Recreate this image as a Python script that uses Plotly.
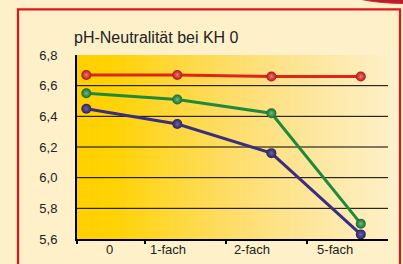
import plotly.graph_objects as go

# ---- data ----
categories = ["0", "1-fach", "2-fach", "5-fach"]
label_pos = [0.42, 1.17, 2.25, 3.32]        # category label positions on x axis
tick_pos = [0.0, 0.875, 1.92, 2.96]         # tick mark positions
x_points = [0.12, 1.29, 2.5, 3.65]          # x of measured points
red_vals = [6.67, 6.67, 6.66, 6.66]
green_vals = [6.55, 6.51, 6.42, 5.70]
purple_vals = [6.45, 6.35, 6.16, 5.63]
y_ticks = [5.6, 5.8, 6.0, 6.2, 6.4, 6.6, 6.8]
grid_vals = [5.8, 6.0, 6.2, 6.4, 6.6]

W, H = 403, 264
ML, MR, MT, MB = 77, 15, 55, 25
PW, PH = W - ML - MR, H - MT - MB


def px(x):  # pixel x -> paper
    return (x - ML) / PW


def py(y):  # pixel y -> paper
    return (H - MB - y) / PH


fig = go.Figure()

series = [
    (red_vals, "#E2231A", "#F47A6E", "#B0121A"),
    (green_vals, "#1F8A3B", "#6DBB7C", "#17692C"),
    (purple_vals, "#3A2E80", "#6B62A8", "#2A2060"),
]
for vals, lc, light, dark in series:
    fig.add_trace(go.Scatter(
        x=x_points, y=vals, mode="lines+markers",
        line=dict(color=lc, width=3),
        marker=dict(size=10, color=dark,
                    gradient=dict(type="radial", color=light),
                    line=dict(width=0)),
        xaxis="x", yaxis="y", showlegend=False, hoverinfo="skip",
    ))

# dummy trace for tick-mark axis
fig.add_trace(go.Scatter(x=[0], y=[6.0], xaxis="x2", yaxis="y",
                         mode="markers", marker=dict(opacity=0),
                         showlegend=False, hoverinfo="skip"))

shapes = []
stops = [(0.0, (255, 208, 0)), (0.1, (255, 210, 0)), (0.5, (254, 221, 106)),
         (0.75, (253, 230, 156)), (1.0, (254, 240, 198))]


def col(t):
    for (a, ca), (b, cb) in zip(stops[:-1], stops[1:]):
        if a <= t <= b:
            f = (t - a) / (b - a) if b > a else 0
            c = [round(ca[i] + (cb[i] - ca[i]) * f) for i in range(3)]
            return "rgb(%d,%d,%d)" % tuple(c)
    return "rgb(254,240,198)"


N = 120
for i in range(N):
    shapes.append(dict(type="rect", xref="paper", yref="paper",
                       x0=i / N, x1=(i + 1) / N + 0.002, y0=0, y1=1,
                       fillcolor=col((i + 0.5) / N), line=dict(width=0),
                       layer="below"))
for g in grid_vals:
    shapes.append(dict(type="line", xref="paper", yref="y", x0=0, x1=1,
                       y0=g, y1=g, line=dict(color="black", width=1),
                       layer="below"))
# red frame
shapes.append(dict(type="rect", xref="paper", yref="paper",
                   x0=px(18), x1=px(400), y0=py(9.3), y1=py(290),
                   line=dict(color="#E3141E", width=2.2), fillcolor="rgba(0,0,0,0)",
                   layer="above"))
# top-right ellipse sliver
shapes.append(dict(type="circle", xref="paper", yref="paper",
                   x0=px(342), x1=px(470), y0=py(3.5), y1=py(-25),
                   line=dict(color="#D8222A", width=1), fillcolor="#B81E28",
                   layer="above"))

fig.update_layout(
    width=W, height=H,
    margin=dict(l=ML, r=MR, t=MT, b=MB, pad=0, autoexpand=False),
    paper_bgcolor="#FEF0C9", plot_bgcolor="#FEF0C9",
    font=dict(family="Liberation Sans, Arial, sans-serif", size=13, color="#222"),
    separators=",.",
    shapes=shapes,
    xaxis=dict(range=[0, 4], tickvals=label_pos, ticktext=categories,
               showgrid=False, zeroline=False, showline=True,
               linecolor="black", linewidth=2, automargin=False,
               ticks="", ticklabelstandoff=-3, tickfont=dict(size=13)),
    xaxis2=dict(range=[0, 4], overlaying="x", anchor="y", side="bottom",
                tickvals=tick_pos, showticklabels=False, showgrid=False,
                zeroline=False, ticks="outside", ticklen=4, tickwidth=2,
                tickcolor="black", showline=False, automargin=False),
    yaxis=dict(range=[5.6, 6.8], tickvals=y_ticks, tickformat=".1f",
               showgrid=False, zeroline=False, showline=True,
               linecolor="black", linewidth=2, automargin=False,
               ticks="outside", ticklen=15, tickcolor="rgba(0,0,0,0)",
               tickfont=dict(size=13)),
    annotations=[dict(text="pH-Neutralität bei KH 0", xref="paper", yref="paper",
                      x=px(72), y=py(38), xanchor="left", yanchor="middle",
                      showarrow=False, font=dict(size=16, color="#222"))],
)

fig.write_html(
    "out.html",
    config={"displayModeBar": False, "staticPlot": True},
    post_script="document.body.style.margin='0';document.body.style.overflow='hidden';"
                "document.body.style.background='#FEF0C9';",
)
